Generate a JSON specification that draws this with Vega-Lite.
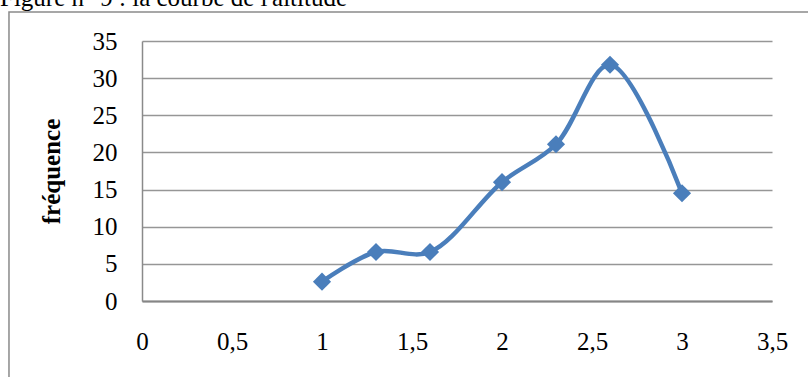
{
  "$schema": "https://vega.github.io/schema/vega-lite/v6.json",
  "autosize": "none",
  "width": 630,
  "height": 260,
  "padding": {"left": 142, "top": 41, "right": 36, "bottom": 76},
  "background": "white",
  "config": {
    "view": {"stroke": null},
    "font": "Liberation Serif",
    "axisX": {
      "title": null,
      "grid": false,
      "ticks": false,
      "domainColor": "#868686",
      "domainWidth": 2,
      "labelFont": "Liberation Serif",
      "labelFontSize": 25,
      "labelColor": "black",
      "labelPadding": 28,
      "labelFlush": false,
      "labelOverlap": false
    },
    "axisY": {
      "titleFont": "Liberation Serif",
      "titleFontSize": 25,
      "titleFontWeight": "bold",
      "titleColor": "black",
      "titlePadding": 28,
      "grid": true,
      "gridColor": "#969696",
      "gridWidth": 1.3,
      "ticks": false,
      "domainColor": "#8a8a8a",
      "domainWidth": 1.5,
      "labelFont": "Liberation Serif",
      "labelFontSize": 25,
      "labelColor": "black",
      "labelPadding": 25,
      "labelFlush": false,
      "labelOverlap": false
    }
  },
  "title": {
    "text": "Figure n° 9 : la courbe de l'altitude",
    "anchor": "start",
    "frame": "group",
    "font": "Liberation Serif",
    "fontSize": 25,
    "fontWeight": "normal",
    "color": "black",
    "baseline": "alphabetic",
    "dx": -142,
    "dy": 20,
    "offset": 0
  },
  "layer": [
    {
      "data": {
        "values": [
          {"x": 1, "frequence": 2.6},
          {"x": 1.3, "frequence": 6.6},
          {"x": 1.6, "frequence": 6.6},
          {"x": 2, "frequence": 16.0},
          {"x": 2.3, "frequence": 21.1},
          {"x": 2.6, "frequence": 31.8},
          {"x": 3, "frequence": 14.5}
        ]
      },
      "encoding": {
        "x": {
          "field": "x",
          "type": "quantitative",
          "scale": {"domain": [0, 3.5]},
          "axis": {"title": null, "values": [0, 0.5, 1, 1.5, 2, 2.5, 3, 3.5], "labelExpr": "replace(toString(datum.value), '.', ',')"}
        },
        "y": {
          "field": "frequence",
          "type": "quantitative",
          "scale": {"domain": [0, 35]},
          "axis": {"title": "fréquence", "values": [0, 5, 10, 15, 20, 25, 30, 35]}
        }
      },
      "layer": [
        {
          "mark": {"type": "line", "interpolate": "catmull-rom", "color": "#4A7EBB", "strokeWidth": 4.5}
        },
        {
          "mark": {"type": "point", "shape": "diamond", "filled": true, "color": "#4A7EBB", "opacity": 1, "size": 330}
        }
      ]
    },
    {
      "data": {"values": [{"frame": "chart area"}]},
      "mark": {"type": "rect", "fill": null, "stroke": "#8a8a8a", "strokeWidth": 1.5, "clip": false},
      "encoding": {
        "x": {"datum": -0.739, "type": "quantitative", "scale": {"domain": [0, 3.5]}, "axis": {"title": null, "values": [0, 0.5, 1, 1.5, 2, 2.5, 3, 3.5], "labelExpr": "replace(toString(datum.value), '.', ',')"}},
        "x2": {"datum": 3.75},
        "y": {"datum": 38.9, "type": "quantitative", "scale": {"domain": [0, 35]}, "axis": {"title": "fréquence", "values": [0, 5, 10, 15, 20, 25, 30, 35]}},
        "y2": {"datum": -12}
      }
    }
  ]
}
